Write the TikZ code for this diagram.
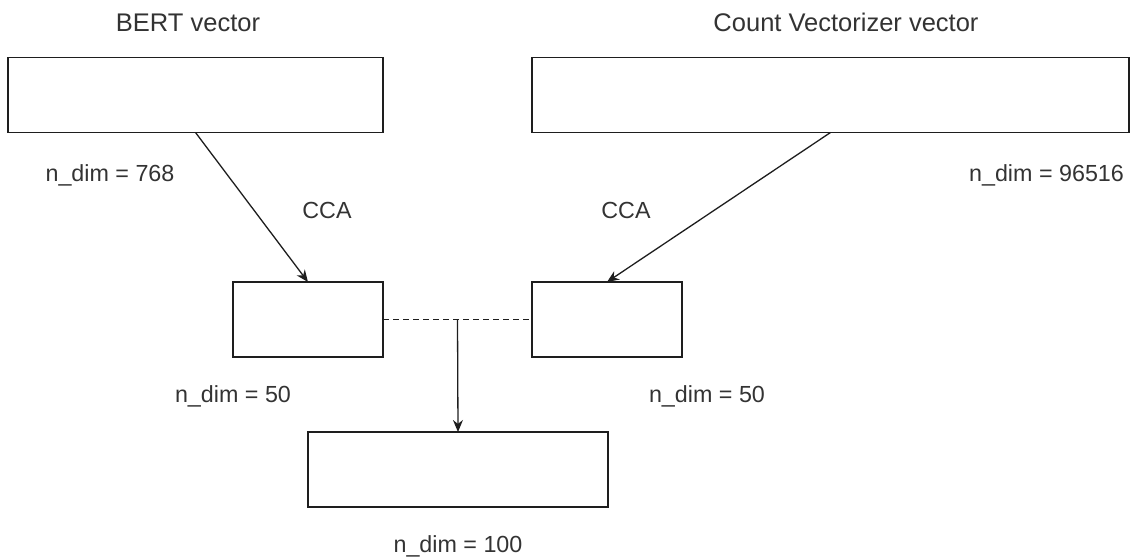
\documentclass[tikz,border=0pt]{standalone}
\usepackage{fontspec}
\setmainfont{Liberation Sans}
\usetikzlibrary{arrows.meta}
\definecolor{ink}{HTML}{1E1E1E}
\definecolor{txt}{HTML}{333333}
\begin{document}
\begin{tikzpicture}[x=1pt,y=-1pt,
  box/.style={draw=ink, line width=1.8pt, fill=white, minimum width=#1,
    minimum height=75pt, inner sep=0pt, outer sep=0pt},
  title/.style={font=\fontsize{25.5}{30}\selectfont, text=txt, anchor=base, inner sep=0pt},
  lbl/.style={font=\fontsize{23.3}{28}\selectfont, text=txt, anchor=base, inner sep=0pt},
  conn/.style={draw=ink, line width=1.3pt, -{Stealth[length=12pt,width=10pt]}},
  dashconn/.style={draw=ink, line width=1.3pt, dash pattern=on 6pt off 4pt}
]
\useasboundingbox (0,0) rectangle (1130,557);

% boxes
\node[box=375pt] (bert) at (195.5,95) {};
\node[box=597pt] (count) at (830.5,95) {};
\node[box=150pt] (ccal) at (308,319.5) {};
\node[box=150pt] (ccar) at (607,319.5) {};
\node[box=300pt] (out) at (458,469.5) {};

% titles and labels
\node[title] (tbert) at (188,31) {BERT vector};
\node[title] (tcount) at (846,31) {Count Vectorizer vector};
\node[lbl] (dbert) at (110,181) {n\_dim = 768};
\node[lbl] (dcount) at (1046.5,181) {n\_dim = 96516};
\node[lbl] (cca1) at (327,218) {CCA};
\node[lbl] (cca2) at (626,218) {CCA};
\node[lbl] (dl) at (233,402) {n\_dim = 50};
\node[lbl] (dr) at (707,402) {n\_dim = 50};
\node[lbl] (dout) at (458,552) {n\_dim = 100};

% connectors
\draw[conn] (bert.south) -- (ccal.north);
\draw[conn] (count.south) -- (ccar.north);
\draw[dashconn] (ccal.east) -- coordinate[pos=0.5] (mid) (ccar.west);
\draw[conn] (mid) -- (out.north);
\end{tikzpicture}
\end{document}
